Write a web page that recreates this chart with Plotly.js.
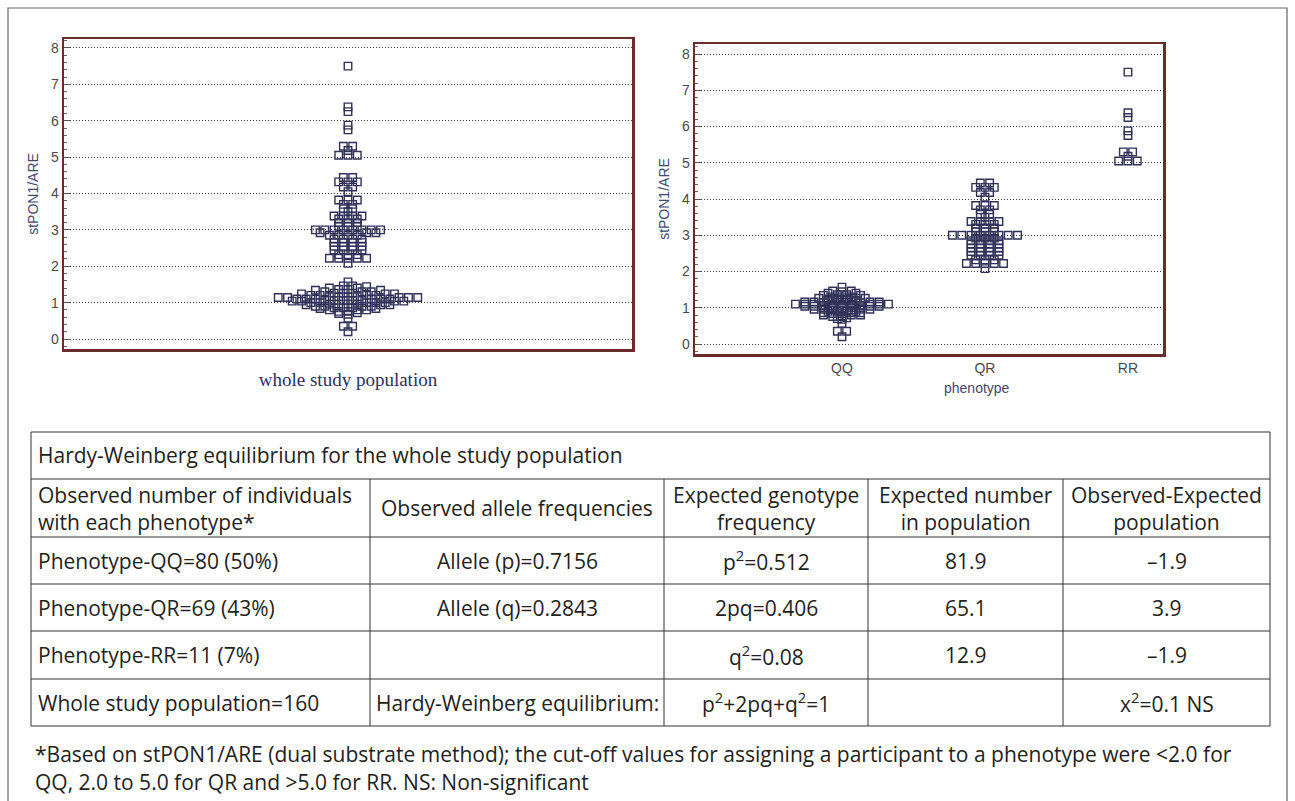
<!DOCTYPE html>
<html>
<head>
<meta charset="utf-8">
<script src="https://cdn.plot.ly/plotly-3.0.1.min.js"></script>
<style>
  html, body { margin: 0; padding: 0; background: #ffffff; }
  #chart { width: 1295px; height: 801px; }
</style>
</head>
<body>
<div id="chart"></div>
<script>
// ---------------- DATA ----------------
const categories = ['QQ', 'QR', 'RR'];

const qqValues = [
  0.20, 0.35, 0.35, 0.57,
  0.68, 0.70, 0.72,
  0.76, 0.76, 0.80, 0.80, 0.80, 0.84, 0.84,
  0.86, 0.86, 0.86, 0.90, 0.90, 0.90, 0.90, 0.94, 0.94, 0.94,
  0.96, 0.96, 0.96, 0.96, 1.00, 1.00, 1.00, 1.00, 1.00, 1.04, 1.04, 1.04, 1.04,
  1.06, 1.06, 1.06, 1.06, 1.06, 1.10, 1.10, 1.10, 1.10, 1.10, 1.10, 1.14, 1.14, 1.14, 1.14, 1.14,
  1.16, 1.16, 1.16, 1.16, 1.20, 1.20, 1.20, 1.20, 1.24, 1.24, 1.24,
  1.26, 1.26, 1.26, 1.30, 1.30, 1.30, 1.34, 1.34,
  1.36, 1.36, 1.40, 1.40, 1.44,
  1.46, 1.46, 1.57
];

const qrValues = [
  2.08,
  2.22, 2.22, 2.22, 2.22, 2.22,
  2.32, 2.32, 2.32,
  2.45, 2.45, 2.45, 2.45,
  2.55, 2.55, 2.55, 2.55,
  2.65, 2.65, 2.65, 2.65,
  2.75, 2.75, 2.75, 2.75,
  2.85, 2.85, 2.85, 2.85,
  2.92, 2.92, 2.92,
  3.00, 3.00, 3.00, 3.00, 3.00, 3.00, 3.00, 3.00,
  3.10, 3.10, 3.10,
  3.20, 3.20, 3.20,
  3.30, 3.30, 3.30,
  3.38, 3.38, 3.38, 3.38,
  3.50,
  3.58, 3.58,
  3.70, 3.70,
  3.82, 3.82, 3.82,
  4.05,
  4.18, 4.18,
  4.32, 4.32, 4.32,
  4.44, 4.44
];

const rrValues = [5.05, 5.05, 5.05, 5.18, 5.30, 5.30, 5.75, 5.88, 6.25, 6.38, 7.50];

const wholeLabel = 'whole study population';
const yAxisLabel = 'stPON1/ARE';
const xAxisLabel2 = 'phenotype';

// table content
const tableTitle = 'Hardy-Weinberg equilibrium for the whole study population';
const tableHeaders = [
  'Observed number of individuals<br>with each phenotype*',
  'Observed allele frequencies',
  'Expected genotype<br>frequency',
  'Expected number<br>in population',
  'Observed-Expected<br>population'
];
const colObserved = ['Phenotype-QQ=80 (50%)', 'Phenotype-QR=69 (43%)', 'Phenotype-RR=11 (7%)', 'Whole study population=160'];
const colAllele = ['Allele (p)=0.7156', 'Allele (q)=0.2843', '', 'Hardy-Weinberg equilibrium:'];
const colGenotype = ['p<sup>2</sup>=0.512', '2pq=0.406', 'q<sup>2</sup>=0.08', 'p<sup>2</sup>+2pq+q<sup>2</sup>=1'];
const colExpected = ['81.9', '65.1', '12.9', ''];
const colDiff = ['\u20131.9', '3.9', '\u20131.9', 'x<sup>2</sup>=0.1 NS'];
const footnoteLines = [
  '*Based on stPON1/ARE (dual substrate method); the cut-off values for assigning a participant to a phenotype were &lt;2.0 for',
  'QQ, 2.0 to 5.0 for QR and &gt;5.0 for RR. NS: Non-significant'
];

// ---------------- LAYOUT HELPERS ----------------
const W = 1295, H = 801;
const px = x => x / W;
const py = y => 1 - y / H;

// subplot frames (pixels)
const P1 = { l: 64, r: 632, t: 39, b: 349, xr: [-1, 1], yr: [-0.275, 8.247] };
const P2 = { l: 695, r: 1163, t: 44, b: 354, xr: [-1.028, 2.245], yr: [-0.276, 8.276] };
const markerStepPx = 9.3;

// dot-diagram layout: values in the same bin are spread side by side, centred
function swarm(values, center, binCents, stepUnits) {
  const groups = {};
  values.forEach((v, i) => {
    const key = Math.round(Math.round(v * 100) / binCents);
    (groups[key] = groups[key] || []).push(i);
  });
  const xs = new Array(values.length);
  Object.values(groups).forEach(idx => {
    const n = idx.length;
    const slots = [];
    for (let k = 0; k < n; k++) slots.push((k - (n - 1) / 2));
    slots.sort((a, b) => Math.abs(a) - Math.abs(b) || a - b);
    idx.sort((a, b) => values[a] - values[b]);
    idx.forEach((vi, k) => { xs[vi] = center + slots[k] * stepUnits; });
  });
  return xs;
}

const step1 = markerStepPx * (P1.xr[1] - P1.xr[0]) / (P1.r - P1.l);
const step2 = markerStepPx * (P2.xr[1] - P2.xr[0]) / (P2.r - P2.l);

const wholeValues = qqValues.concat(qrValues, rrValues);
const groupValues = [qqValues, qrValues, rrValues];

const markerStyle = { symbol: 'square-open', size: 7.5, color: '#2f3158', line: { width: 1.4, color: '#2f3158' } };

const traces = [];
traces.push({
  type: 'scatter', mode: 'markers', xaxis: 'x', yaxis: 'y',
  x: swarm(wholeValues, 0, 10, step1), y: wholeValues,
  marker: markerStyle, hoverinfo: 'y', showlegend: false, name: wholeLabel
});
groupValues.forEach((vals, gi) => {
  traces.push({
    type: 'scatter', mode: 'markers', xaxis: 'x2', yaxis: 'y2',
    x: swarm(vals, gi, 6, step2), y: vals,
    marker: markerStyle, hoverinfo: 'y', showlegend: false, name: categories[gi]
  });
});

const frameColor = '#6b2b2b';
const tickFont = { family: 'Liberation Sans, Arial, sans-serif', size: 14, color: '#4a4a4a' };
const titleFont = { family: 'Liberation Sans, Arial, sans-serif', size: 14, color: '#414872' };

function yAxis(P, anchor) {
  return {
    domain: [py(P.b), py(P.t)], range: P.yr, anchor: anchor,
    tick0: 0, dtick: 1, ticks: 'inside', ticklen: 6, tickcolor: '#555', tickwidth: 1,
    minor: { ticks: 'inside', dtick: 0.2, ticklen: 3, tickcolor: '#666', showgrid: false },
    showgrid: true, gridcolor: '#3a3a3a', griddash: '1px,2px', gridwidth: 1,
    zeroline: false, showline: true, mirror: true, linecolor: frameColor, linewidth: 2.5,
    tickfont: tickFont, title: { text: yAxisLabel, font: titleFont, standoff: 9 },
    fixedrange: true
  };
}

const layout = {
  width: W, height: H,
  margin: { l: 0, r: 0, t: 0, b: 0 },
  paper_bgcolor: '#ffffff', plot_bgcolor: '#ffffff',
  showlegend: false,
  xaxis: {
    domain: [px(P1.l), px(P1.r)], range: P1.xr, anchor: 'y',
    showgrid: false, zeroline: false, showticklabels: false, ticks: '',
    showline: true, mirror: true, linecolor: frameColor, linewidth: 2.5,
    title: { text: wholeLabel, font: { family: 'Liberation Serif, Times New Roman, serif', size: 19, color: '#2b2f5e' }, standoff: 22 },
    fixedrange: true
  },
  yaxis: yAxis(P1, 'x'),
  xaxis2: {
    domain: [px(P2.l), px(P2.r)], range: P2.xr, anchor: 'y2',
    tickmode: 'array', tickvals: [0, 1, 2], ticktext: categories, ticks: '',
    showgrid: false, zeroline: false,
    showline: true, mirror: true, linecolor: frameColor, linewidth: 2.5,
    tickfont: tickFont,
    fixedrange: true
  },
  yaxis2: yAxis(P2, 'x2'),
  shapes: [],
  annotations: []
};

// x-axis title of the phenotype panel (sits under the QR column in the original)
layout.annotations.push({
  xref: 'x2', yref: 'paper', x: (977 - 842) / 143, y: py(388), xanchor: 'center', yanchor: 'middle',
  text: xAxisLabel2, showarrow: false, font: titleFont
});

// outer frame of the figure
layout.shapes.push({ type: 'rect', xref: 'paper', yref: 'paper', x0: px(8), x1: px(1287), y0: py(806), y1: py(8), line: { color: '#666', width: 1.2 } });

// table grid
const T = { l: 31, r: 1270, rows: [432, 479, 537, 584, 631, 679, 726], cols: [31, 370, 664, 868, 1063, 1270] };
const lineStyle = { color: '#333', width: 1 };
layout.shapes.push({ type: 'rect', xref: 'paper', yref: 'paper', x0: px(T.l), x1: px(T.r), y0: py(T.rows[6]), y1: py(T.rows[0]), line: lineStyle });
for (let i = 1; i < T.rows.length - 1; i++) {
  layout.shapes.push({ type: 'line', xref: 'paper', yref: 'paper', x0: px(T.l), x1: px(T.r), y0: py(T.rows[i]), y1: py(T.rows[i]), line: lineStyle });
}
for (let j = 1; j < T.cols.length - 1; j++) {
  layout.shapes.push({ type: 'line', xref: 'paper', yref: 'paper', x0: px(T.cols[j]), x1: px(T.cols[j]), y0: py(T.rows[6]), y1: py(T.rows[1]), line: lineStyle });
}

const tFont = { family: 'Open Sans, Lato, sans-serif', size: 21, color: '#231f20' };
function cellText(text, colIdx, rowTop, rowBot) {
  if (!text) return;
  const left = colIdx === 0;
  const x = left ? T.cols[0] + 5 : (T.cols[colIdx] + T.cols[colIdx + 1]) / 2;
  layout.annotations.push({
    xref: 'paper', yref: 'paper', x: px(x), y: py((rowTop + rowBot) / 2),
    xanchor: left ? 'left' : 'center', yanchor: 'middle', align: left ? 'left' : 'center',
    text: text, showarrow: false, font: tFont
  });
}
// title row
layout.annotations.push({
  xref: 'paper', yref: 'paper', x: px(T.l + 5), y: py((T.rows[0] + T.rows[1]) / 2),
  xanchor: 'left', yanchor: 'middle', text: tableTitle, showarrow: false, font: tFont
});
tableHeaders.forEach((h, j) => cellText(h, j, T.rows[1], T.rows[2]));
const bodyCols = [colObserved, colAllele, colGenotype, colExpected, colDiff];
for (let r = 0; r < 4; r++) {
  bodyCols.forEach((col, j) => cellText(col[r], j, T.rows[2 + r], T.rows[3 + r]));
}
// footnote (two lines below the table)
footnoteLines.forEach((line, i) => {
  layout.annotations.push({
    xref: 'paper', yref: 'paper', x: px(33), y: py(754 + 28 * i),
    xanchor: 'left', yanchor: 'middle', align: 'left',
    text: line, showarrow: false, font: tFont
  });
});

Plotly.newPlot('chart', traces, layout, { displayModeBar: false, staticPlot: true });
</script>
</body>
</html>
